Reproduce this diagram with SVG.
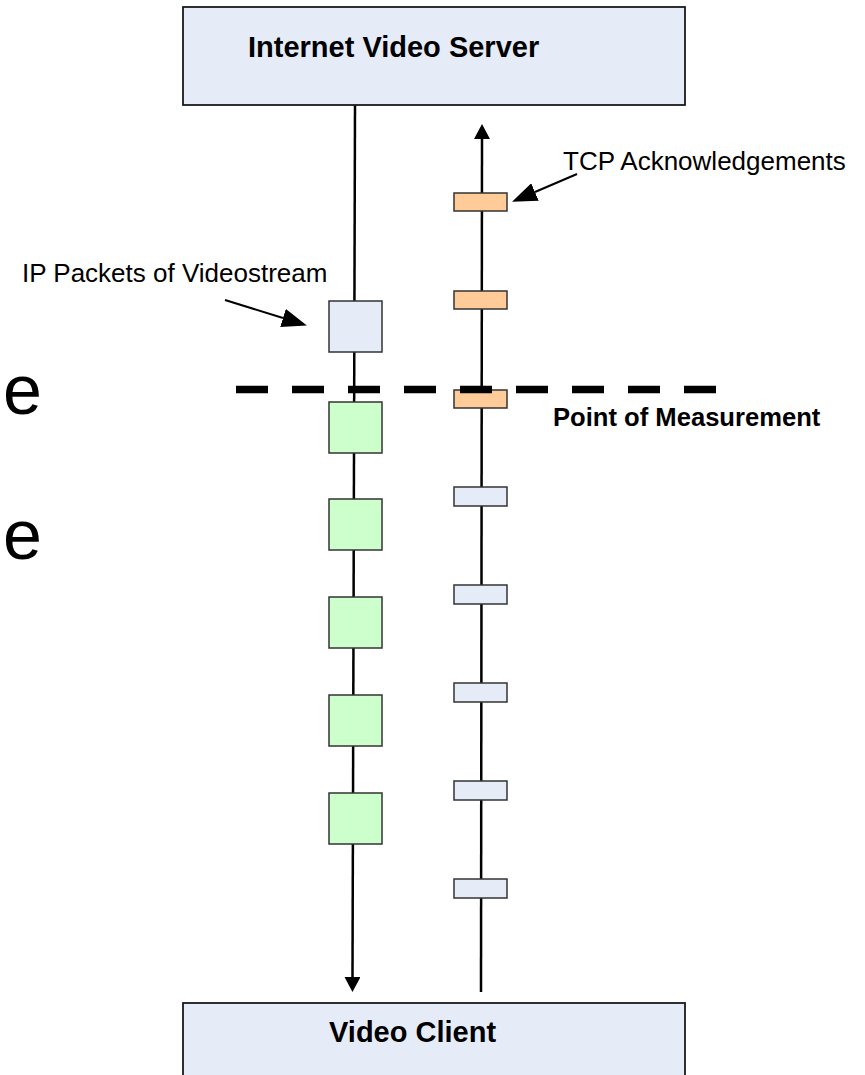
<svg xmlns="http://www.w3.org/2000/svg" width="865" height="1075" viewBox="0 0 865 1075">
<style>
  .end{fill:#E6ECF7;stroke:#1a1a1a;stroke-width:1.8}
  .vid{fill:#E6ECF7;stroke:#333;stroke-width:1.5}
  .grn{fill:#CCFFCC;stroke:#333;stroke-width:1.5}
  .org{fill:#FFCC99;stroke:#333;stroke-width:1.5}
  .ack{fill:#E6ECF7;stroke:#333;stroke-width:1.5}
  .flow{stroke:#000;stroke-width:2.5;fill:none}
  .lbl{stroke:#000;stroke-width:2;fill:none}
  .bt{font-family:"Liberation Sans",Arial,sans-serif;font-weight:bold;fill:#000}
  .rt{font-family:"Liberation Sans",Arial,sans-serif;fill:#000}
</style>
<defs>
  <marker id="headS" markerUnits="userSpaceOnUse" markerWidth="15" markerHeight="16" refX="0" refY="8" orient="auto" viewBox="0 0 15 16">
    <path d="M0,0 L15,8 L0,16 Z" fill="#000"/>
  </marker>
  <marker id="headL" markerUnits="userSpaceOnUse" markerWidth="25" markerHeight="19" refX="0" refY="9.5" orient="auto" viewBox="0 0 25 19">
    <path d="M0,0 L25,9.5 L0,19 Z" fill="#000"/>
  </marker>
</defs>

<rect width="865" height="1075" fill="#fff"/>

<g id="cut-text">
  <text class="rt" x="3" y="414" font-size="70">e</text>
  <text class="rt" x="3" y="559" font-size="70">e</text>
</g>

<g id="connectors">
  <line class="flow" x1="355" y1="105" x2="352.5" y2="977" marker-end="url(#headS)"/>
  <line class="flow" x1="481" y1="992" x2="482" y2="139" marker-end="url(#headS)"/>
  <line class="lbl" x1="225" y1="300" x2="283" y2="318" marker-end="url(#headL)"/>
  <line class="lbl" x1="577" y1="174" x2="535" y2="192" marker-end="url(#headL)"/>
</g>

<g id="server">
  <rect class="end" x="183" y="7" width="502" height="98"/>
  <text class="bt" x="248" y="57" font-size="29">Internet Video Server</text>
</g>

<g id="client">
  <rect class="end" x="183" y="1003" width="502" height="90"/>
  <text class="bt" x="329" y="1042" font-size="29">Video Client</text>
</g>

<g id="ip-packet-label">
  <text class="rt" x="22" y="282" font-size="26">IP Packets of Videostream</text>
</g>
<g id="tcp-ack-label">
  <text class="rt" x="563" y="170" font-size="26">TCP Acknowledgements</text>
</g>
<g id="measurement-label">
  <text class="bt" x="553" y="426" font-size="25.6">Point of Measurement</text>
</g>

<g id="video-packet-0"><rect class="vid" x="329" y="301" width="53" height="51"/></g>
<g id="video-packet-1"><rect class="grn" x="329" y="402" width="53" height="51"/></g>
<g id="video-packet-2"><rect class="grn" x="329" y="499" width="53" height="51"/></g>
<g id="video-packet-3"><rect class="grn" x="329" y="597" width="53" height="51"/></g>
<g id="video-packet-4"><rect class="grn" x="329" y="695" width="53" height="51"/></g>
<g id="video-packet-5"><rect class="grn" x="329" y="793" width="53" height="51"/></g>

<g id="ack-0"><rect class="org" x="454" y="193" width="53" height="18"/></g>
<g id="ack-1"><rect class="org" x="454" y="291" width="53" height="18"/></g>
<g id="ack-2"><rect class="org" x="454" y="390" width="53" height="18"/></g>
<g id="ack-3"><rect class="ack" x="454" y="487" width="53" height="19"/></g>
<g id="ack-4"><rect class="ack" x="454" y="585" width="53" height="19"/></g>
<g id="ack-5"><rect class="ack" x="454" y="683" width="53" height="19"/></g>
<g id="ack-6"><rect class="ack" x="454" y="781" width="53" height="19"/></g>
<g id="ack-7"><rect class="ack" x="454" y="879" width="53" height="19"/></g>

<g id="measurement-line">
  <line x1="236" y1="389.5" x2="716" y2="389.5" stroke="#000" stroke-width="7.5" stroke-dasharray="32 24"/>
</g>
</svg>
